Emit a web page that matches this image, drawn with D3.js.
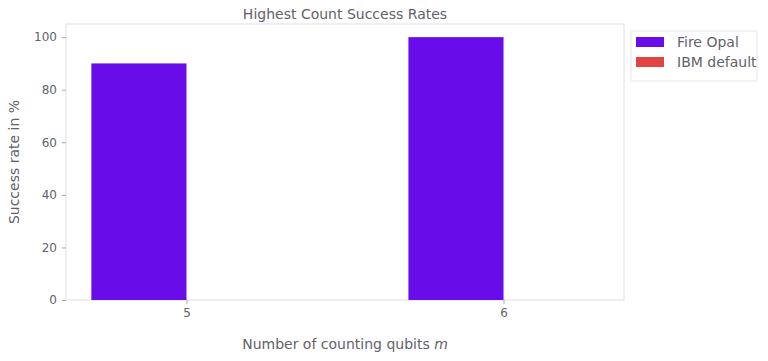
<!DOCTYPE html>
<html>
<head>
<meta charset="utf-8">
<script src="https://cdn.jsdelivr.net/npm/d3@7"></script>
<style>
  body { margin: 0; background: #fff; }
  text { font-family: 'DejaVu Sans', sans-serif; fill: #626268; }
</style>
</head>
<body>
<svg id="chart" width="768" height="361"></svg>
<script>
const qubits = [5, 6]
const fireOpal = [90, 100]
const ibmDefault = [0, 0]
const yTicks = [0, 20, 40, 60, 80, 100]
const seriesNames = ['Fire Opal', 'IBM default']
const seriesColors = ['#680ce9', '#e04542']

const svg = d3.select('#chart')
const margin = { left: 66, top: 24, right: 624, bottom: 300 }

const x = d3.scaleLinear().domain([4.62, 6.38]).range([margin.left, margin.right])
const y = d3.scaleLinear().domain([0, 105]).range([margin.bottom, margin.top])
const barW = 0.3

// plot frame
svg.append('rect')
  .attr('x', margin.left).attr('y', margin.top)
  .attr('width', margin.right - margin.left).attr('height', margin.bottom - margin.top)
  .attr('fill', 'none').attr('stroke', '#e0e0e0').attr('stroke-width', 1)

// bars
const series = [fireOpal, ibmDefault]
series.forEach((vals, si) => {
  svg.append('g').selectAll('rect')
    .data(qubits.map((q, i) => ({ q, v: vals[i] })))
    .enter()
    .append('rect')
    .attr('x', d => x(d.q + (si === 0 ? -barW : 0)))
    .attr('y', d => y(d.v))
    .attr('width', x(barW) - x(0))
    .attr('height', d => y(0) - y(d.v))
    .attr('fill', seriesColors[si])
})

// axes
const yAxis = svg.append('g')
  .attr('transform', `translate(${margin.left},0)`)
  .call(d3.axisLeft(y).tickValues(yTicks).tickSize(4).tickPadding(5))
const xAxis = svg.append('g')
  .attr('transform', `translate(0,${margin.bottom})`)
  .call(d3.axisBottom(x).tickValues(qubits).tickFormat(d3.format('d')).tickSize(4).tickPadding(4))
;[xAxis, yAxis].forEach(a => {
  a.select('.domain').remove()
  a.selectAll('line').attr('stroke', '#aaa')
  a.selectAll('text').style('font-size', '12px').style('fill', '#626268').style('font-family', 'DejaVu Sans')
})

// title
svg.append('text')
  .attr('x', (margin.left + margin.right) / 2).attr('y', 19)
  .attr('text-anchor', 'middle').style('font-size', '14px')
  .text('Highest Count Success Rates')

// y label
svg.append('text')
  .attr('transform', `translate(19,${(margin.top + margin.bottom) / 2}) rotate(-90)`)
  .attr('text-anchor', 'middle').style('font-size', '14px')
  .text('Success rate in %')

// x label
const xl = svg.append('text')
  .attr('x', (margin.left + margin.right) / 2).attr('y', 349)
  .attr('text-anchor', 'middle').style('font-size', '14px')
xl.append('tspan').text('Number of counting qubits ')
xl.append('tspan').style('font-style', 'italic').text('m')

// legend
const lg = svg.append('g').attr('transform', 'translate(631,31)')
lg.append('rect').attr('width', 126).attr('height', 50)
  .attr('fill', '#fff').attr('stroke', '#e6e6e6').attr('rx', 2)
seriesNames.forEach((name, i) => {
  lg.append('rect').attr('x', 5).attr('y', 6 + i * 20).attr('width', 28).attr('height', 10)
    .attr('fill', seriesColors[i])
  lg.append('text').attr('x', 46).attr('y', 16 + i * 20)
    .style('font-size', '14px').text(name)
})
</script>
</body>
</html>
